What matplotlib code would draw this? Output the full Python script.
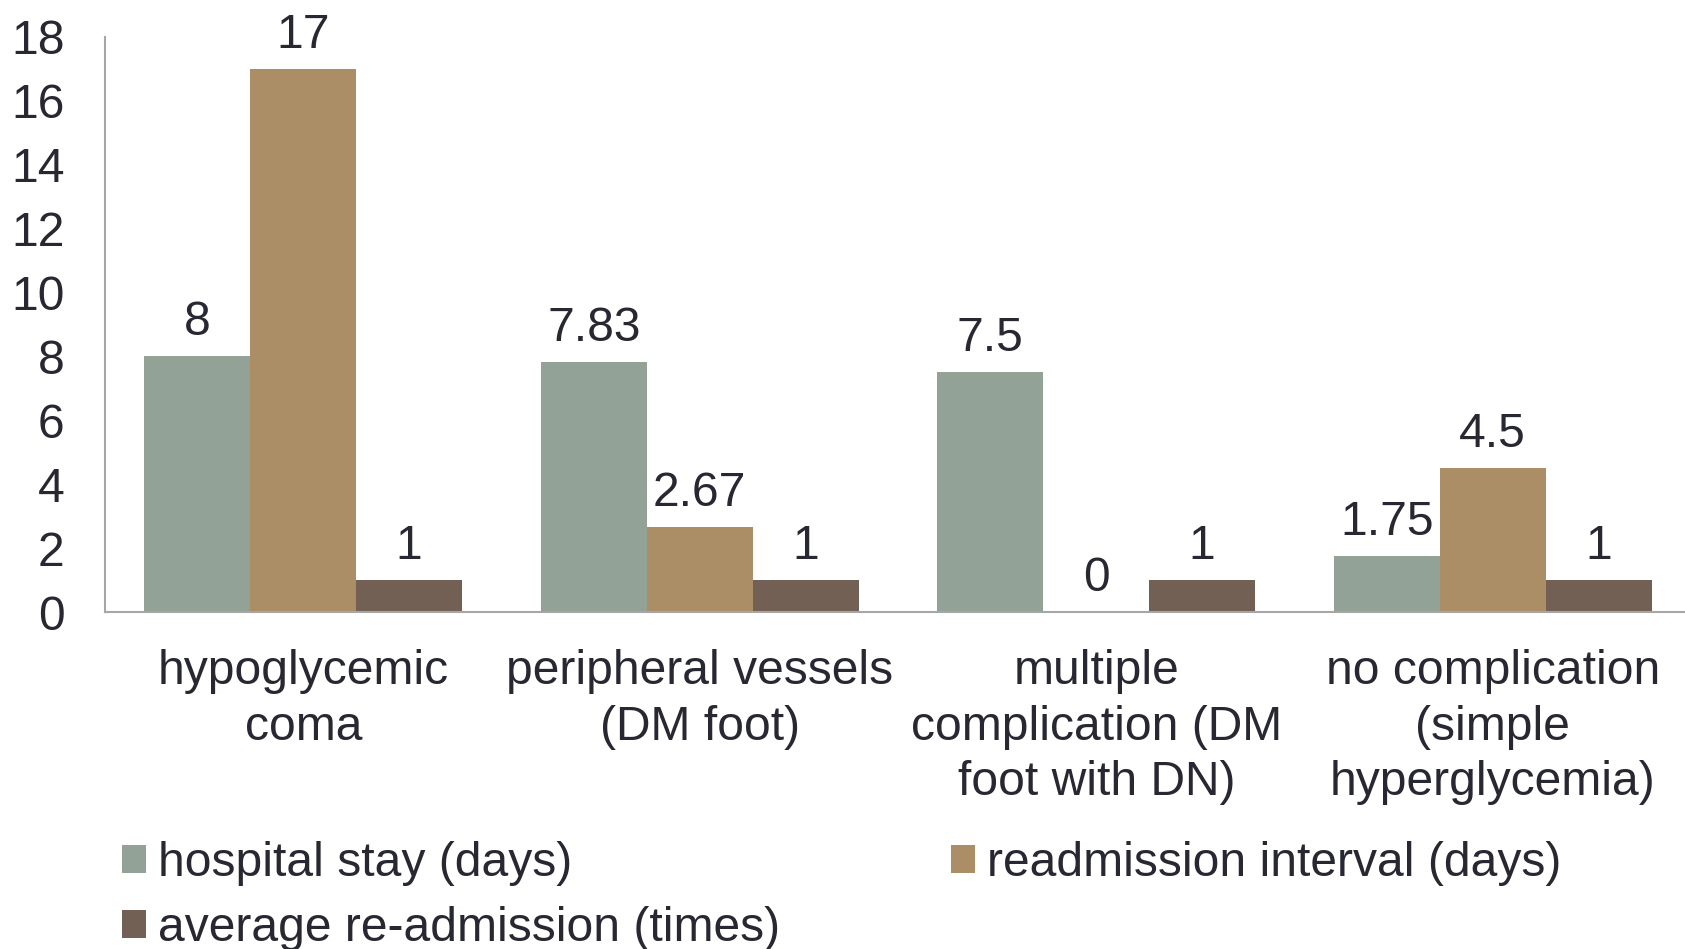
import numpy as np
import matplotlib
matplotlib.use('Agg')
import matplotlib.pyplot as plt

plt.rcParams['font.family'] = ['Liberation Sans', 'DejaVu Sans']

# 数据
categories = ['hypoglycemic\ncoma', 'peripheral vessels\n(DM foot)',
              'multiple\ncomplication (DM\nfoot with DN)',
              'no complication\n(simple\nhyperglycemia)']
series_names = ['hospital stay (days)', 'readmission interval (days)',
                'average re-admission (times)']
hospital_stay = [8, 7.83, 7.5, 1.75]
readmission_interval = [17, 2.67, 0, 4.5]
readmission_times = [1, 1, 1, 1]
y_ticks = [0, 2, 4, 6, 8, 10, 12, 14, 16, 18]

colors = ['#93a297', '#ab8d66', '#736055']
text_color = '#282833'
axis_color = '#a6a6a6'
fs = 34.6

W, H = 1685, 949
fig = plt.figure(figsize=(W / 100, H / 100), dpi=100)
ax = fig.add_axes([105 / W, (H - 612) / H, (1691 - 105) / W, (612 - 37) / H])

x = np.arange(len(categories))
bw = 0.267
bars = []
for j, vals in enumerate([hospital_stay, readmission_interval, readmission_times]):
    b = ax.bar(x + (j - 1) * bw, vals, bw, color=colors[j], label=series_names[j])
    bars.append(b)
    for xi, v in zip(x + (j - 1) * bw, vals):
        ax.annotate(f'{v:g}', (xi, v), xytext=(0, 8), textcoords='offset points',
                    ha='center', va='bottom', fontsize=fs, color=text_color)

ax.set_xlim(-0.5, len(categories) - 0.5)
ax.set_ylim(0, 18)
ax.set_yticks(y_ticks)
ax.set_xticks(x)
ax.set_xticklabels(categories, fontsize=fs, color=text_color, linespacing=1.29)
ax.tick_params(axis='y', length=0, pad=29, labelsize=fs, labelcolor=text_color)
ax.tick_params(axis='x', length=0, pad=27)
for s in ['top', 'right']:
    ax.spines[s].set_visible(False)
for s in ['left', 'bottom']:
    ax.spines[s].set_color(axis_color)
    ax.spines[s].set_linewidth(1.5)

# 图例按行排列
handles = [bars[0], bars[2], bars[1]]
labels = [series_names[0], series_names[2], series_names[1]]
fig.legend(handles, labels, loc='upper left', bbox_to_anchor=(122 / W, 1 - 841 / H),
           ncol=2, frameon=False, fontsize=fs, labelcolor=text_color,
           handlelength=0.5, handleheight=0.5, handletextpad=0.25,
           columnspacing=3.55, labelspacing=0.42, borderpad=0, borderaxespad=0)

fig.savefig('out.png', dpi=100)
